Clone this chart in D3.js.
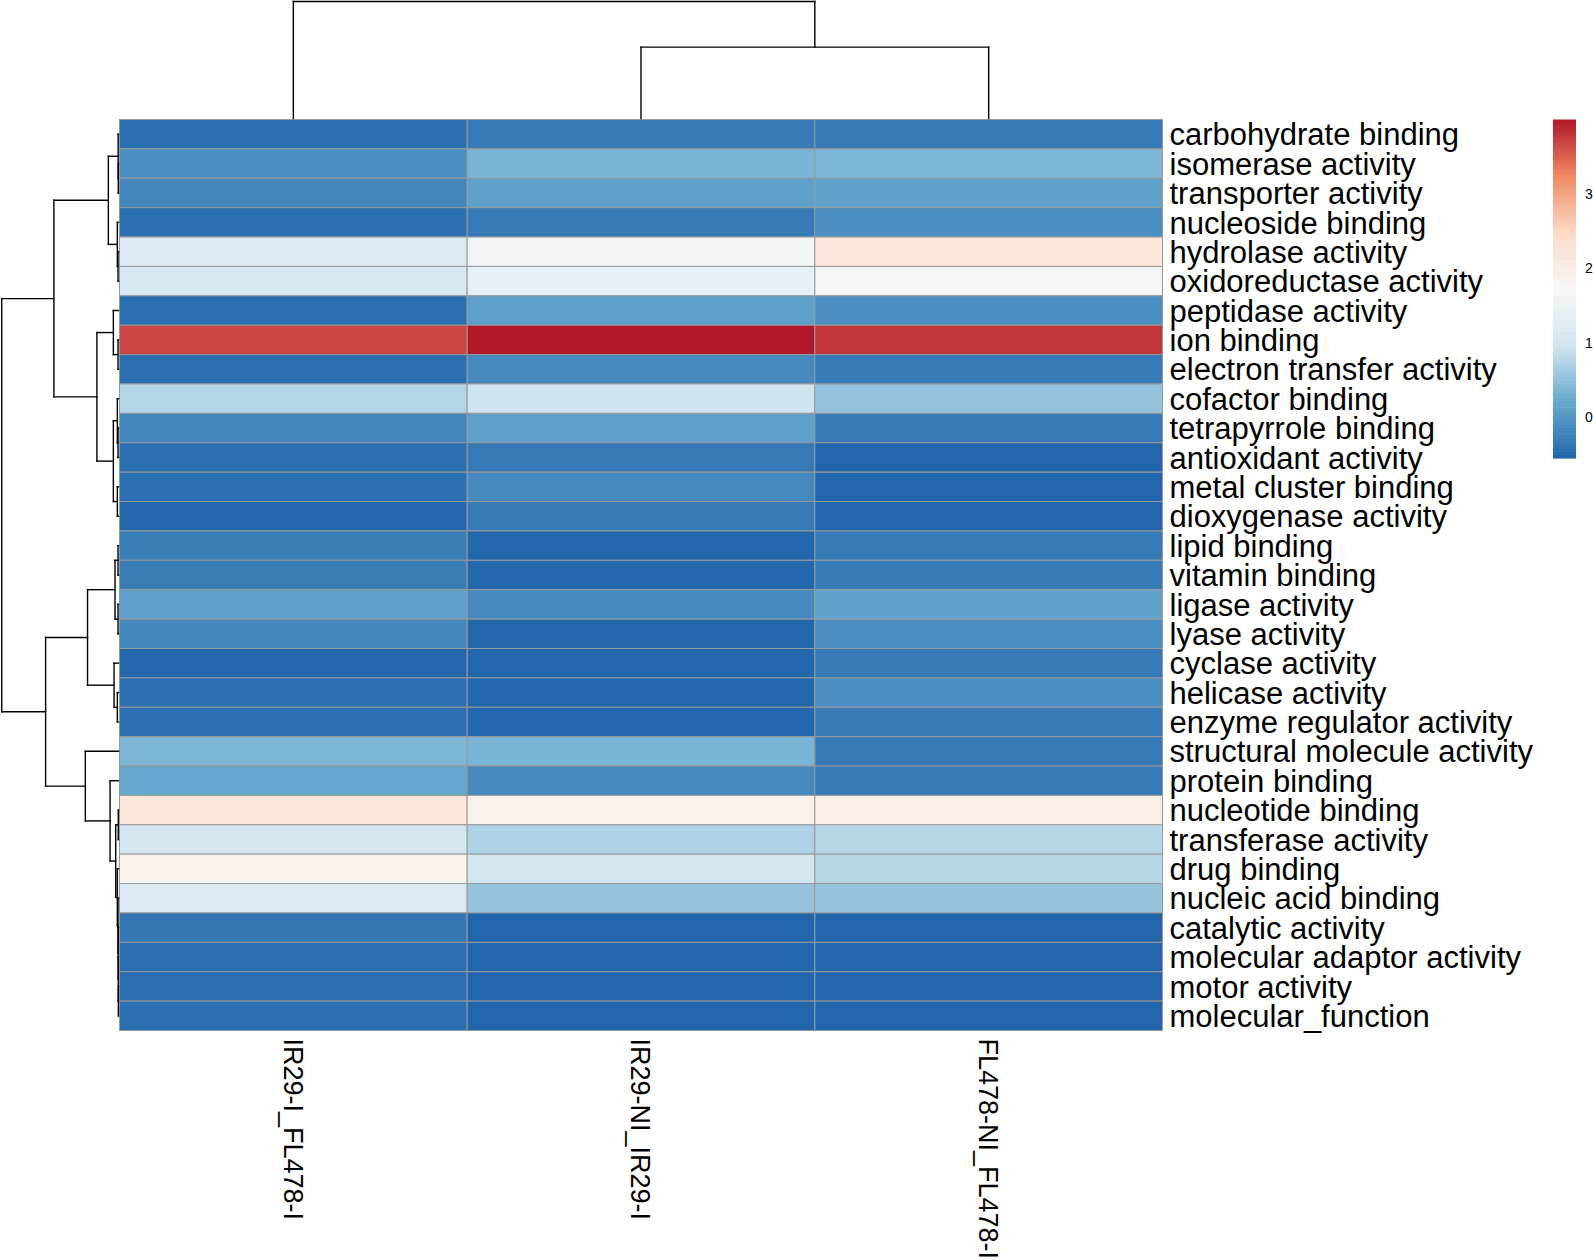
<!DOCTYPE html>
<html>
<head>
<meta charset="utf-8">
<script src="https://cdn.jsdelivr.net/npm/d3@7"></script>
<style>
  html, body { margin: 0; padding: 0; background: #fff; }
  svg { display: block; }
  text { font-family: "Liberation Sans", Arial, Helvetica, sans-serif; fill: #000; }
</style>
</head>
<body>
<svg id="chart" width="1593" height="1260"></svg>
<script>
// ---------------- data ----------------
const rowLabels = [
  "carbohydrate binding", "isomerase activity", "transporter activity", "nucleoside binding",
  "hydrolase activity", "oxidoreductase activity", "peptidase activity", "ion binding",
  "electron transfer activity", "cofactor binding", "tetrapyrrole binding", "antioxidant activity",
  "metal cluster binding", "dioxygenase activity", "lipid binding", "vitamin binding",
  "ligase activity", "lyase activity", "cyclase activity", "helicase activity",
  "enzyme regulator activity", "structural molecule activity", "protein binding", "nucleotide binding",
  "transferase activity", "drug binding", "nucleic acid binding", "catalytic activity",
  "molecular adaptor activity", "motor activity", "molecular_function"
];
const colLabels = ["IR29-I_FL478-I", "IR29-NI_IR29-I", "FL478-NI_FL478-I"];

const valuesIR29I_FL478I = [
  -0.45, -0.10, -0.18, -0.45, 1.17, 1.05, -0.45, 3.70, -0.45, 0.76, -0.18,
  -0.45, -0.45, -0.53, -0.28, -0.28, 0.11, -0.18, -0.53, -0.45, -0.45,
  0.36, 0.19, 2.19, 1.00, 1.86, 1.17, -0.35, -0.45, -0.45, -0.45
];
const valuesIR29NI_IR29I = [
  -0.32, 0.34, 0.11, -0.32, 1.58, 1.39, 0.11, 4.00, -0.15, 0.96, 0.11,
  -0.32, -0.15, -0.32, -0.53, -0.53, -0.15, -0.53, -0.53, -0.53, -0.53,
  0.34, -0.15, 1.86, 0.72, 1.00, 0.54, -0.55, -0.55, -0.55, -0.55
];
const valuesFL478NI_FL478I = [
  -0.32, 0.36, 0.12, -0.10, 2.19, 1.67, -0.10, 3.80, -0.32, 0.54, -0.32,
  -0.55, -0.55, -0.55, -0.32, -0.32, 0.13, -0.10, -0.32, -0.10, -0.32,
  -0.32, -0.32, 1.94, 0.78, 0.78, 0.54, -0.55, -0.55, -0.55, -0.55
];
const columnValues = [valuesIR29I_FL478I, valuesIR29NI_IR29I, valuesFL478NI_FL478I];

// row dendrogram (hclust style: negative = leaf index+1, positive = merge step)
const rowMerge = [
  [-2, -3], [-1, 1], [-5, -6], [-4, 3], [2, 4],
  [-8, -9], [-7, 6], [-11, -12], [-10, 8], [-13, -14], [9, 10], [7, 11], [5, 12],
  [-15, -16], [-17, -18], [14, 15], [-20, -21], [-19, 17], [16, 18],
  [-24, -25], [-30, -31], [-29, 21], [-28, 22], [-27, 23], [-26, 24], [20, 25],
  [-23, 26], [-22, 27], [19, 28], [13, 29]
];
const rowHeight = [
  0.002, 0.003, 0.004, 0.010, 0.087,
  0.004, 0.044, 0.004, 0.010, 0.010, 0.044, 0.185, 0.553,
  0.004, 0.004, 0.030, 0.010, 0.038, 0.265,
  0.002, 0.001, 0.002, 0.003, 0.004, 0.010, 0.024,
  0.072, 0.284, 0.624, 1.000
];
// column dendrogram
const colMerge = [[-2, -3], [-1, 1]];
const colHeight = [0.61, 1.0];

const legendTicks = [0, 1, 2, 3];
const paletteColors = ["#2166AC", "#67A9CF", "#D1E5F0", "#F7F7F7", "#FDDBC7", "#EF8A62", "#B2182B"];

// ---------------- layout ----------------
const svg = d3.select("#chart");
const gx0 = 119.5, gx1 = 1162.5, gy0 = 119.5, gy1 = 1030.5;

const x = d3.scaleBand().domain(d3.range(colLabels.length)).range([gx0, gx1]).padding(0);
const y = d3.scaleBand().domain(d3.range(rowLabels.length)).range([gy0, gy1]).padding(0);

const allVals = columnValues.flat();
const [vmin, vmax] = d3.extent(allVals);
const color = d3.scaleLinear()
  .domain(paletteColors.map((c, i) => vmin + i * (vmax - vmin) / (paletteColors.length - 1)))
  .range(paletteColors)
  .interpolate(d3.interpolateRgb)
  .clamp(true);

// cells
const cells = [];
columnValues.forEach((vals, c) => vals.forEach((v, r) => cells.push({ r, c, v })));
svg.append("g").selectAll("rect").data(cells).join("rect")
  .attr("x", d => x(d.c))
  .attr("y", d => y(d.r))
  .attr("width", x.bandwidth())
  .attr("height", y.bandwidth())
  .attr("fill", d => color(d.v))
  .attr("stroke", "#999999")
  .attr("stroke-width", 1);

// row labels
svg.append("g").selectAll("text").data(rowLabels).join("text")
  .attr("x", gx1 + 7)
  .attr("y", (d, i) => y(i) + y.bandwidth() / 2)
  .attr("dy", "0.36em")
  .style("font-size", "31px")
  .text(d => d);

// column labels (rotated)
svg.append("g").selectAll("text").data(colLabels).join("text")
  .attr("transform", (d, i) => `translate(${x(i) + x.bandwidth() / 2},${gy1 + 8}) rotate(90)`)
  .attr("dy", "0.36em")
  .style("font-size", "27px")
  .text(d => d);

// dendrogram helper
function dendroSegments(merge, heights, leafPos) {
  const pos = [], hts = [];
  const segs = [];
  const getPos = k => k < 0 ? leafPos(-k - 1) : pos[k - 1];
  const getH = k => k < 0 ? 0 : hts[k - 1];
  merge.forEach(([a, b], i) => {
    const pa = getPos(a), pb = getPos(b), h = heights[i];
    segs.push({ p0: pa, h0: getH(a), p1: pa, h1: h });
    segs.push({ p0: pa, h0: h, p1: pb, h1: h });
    segs.push({ p0: pb, h0: h, p1: pb, h1: getH(b) });
    pos[i] = (pa + pb) / 2;
    hts[i] = h;
  });
  return segs;
}

// row dendrogram
const rowH = d3.scaleLinear().domain([0, d3.max(rowHeight)]).range([118.5, 1.7]);
const rowSegs = dendroSegments(rowMerge, rowHeight, i => y(i) + y.bandwidth() / 2);
svg.append("g").selectAll("line").data(rowSegs).join("line")
  .attr("x1", d => rowH(d.h0)).attr("y1", d => d.p0)
  .attr("x2", d => rowH(d.h1)).attr("y2", d => d.p1)
  .attr("stroke", "#000").attr("stroke-width", 1.4).attr("stroke-linecap", "square");

// column dendrogram
const colH = d3.scaleLinear().domain([0, d3.max(colHeight)]).range([118.5, 1.5]);
const colSegs = dendroSegments(colMerge, colHeight, i => x(i) + x.bandwidth() / 2);
svg.append("g").selectAll("line").data(colSegs).join("line")
  .attr("x1", d => d.p0).attr("y1", d => colH(d.h0))
  .attr("x2", d => d.p1).attr("y2", d => colH(d.h1))
  .attr("stroke", "#000").attr("stroke-width", 1.4).attr("stroke-linecap", "square");

// legend
const ly = d3.scaleLinear().domain([vmin, vmax]).range([458, 119.5]);
const nSteps = 100;
const stepVals = d3.range(nSteps).map(i => vmin + i * (vmax - vmin) / nSteps);
const lg = svg.append("g");
lg.selectAll("rect").data(stepVals).join("rect")
  .attr("x", 1553)
  .attr("width", 23)
  .attr("y", d => ly(d + (vmax - vmin) / nSteps))
  .attr("height", d => ly(d) - ly(d + (vmax - vmin) / nSteps) + 0.6)
  .attr("fill", d => color(d + (vmax - vmin) / nSteps / 2));
lg.selectAll("text").data(legendTicks).join("text")
  .attr("x", 1585)
  .attr("y", d => ly(d))
  .attr("dy", "0.36em")
  .style("font-size", "14px")
  .text(d => d);
</script>
</body>
</html>
